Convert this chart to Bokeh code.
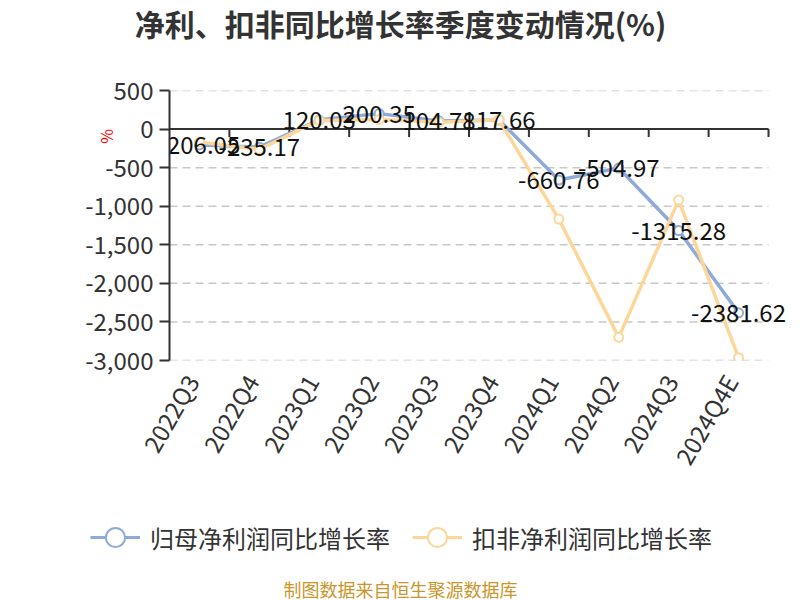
from bokeh.plotting import figure
from bokeh.models import (Legend, LegendItem, FixedTicker, LinearAxis,
                          NumeralTickFormatter, ColumnDataSource, Range1d)
from bokeh.core.properties import value
from bokeh.embed import file_html
from bokeh.resources import INLINE
import math

categories = ["2022Q3", "2022Q4", "2023Q1", "2023Q2", "2023Q3", "2023Q4",
              "2024Q1", "2024Q2", "2024Q3", "2024Q4E"]
net_profit_growth = [-206.05, -235.17, 120.03, 200.35, 104.78, 117.66,
                     -660.76, -504.97, -1315.28, -2381.62]
deducted_growth = [-168, -263, 112, 124, 90, 121, -1167, -2700, -921, -2963]
y_ticks = [500, 0, -500, -1000, -1500, -2000, -2500, -3000]
series_names = ["归母净利润同比增长率", "扣非净利润同比增长率"]
title_text = "净利、扣非同比增长率季度变动情况(%)"
source_text = "制图数据来自恒生聚源数据库"

FONT = "Noto Sans CJK SC"
BLUE = "#8eaadb"
ORANGE = "#fdd79a"
DARK = "#333333"

n = len(categories)
xs = [i + 0.5 for i in range(n)]


def blank_figure(h):
    f = figure(width=800, height=h, x_range=Range1d(0, 800), y_range=Range1d(h, 0),
               output_backend="svg", toolbar_location=None,
               x_axis_location=None, y_axis_location=None,
               min_border_left=0, min_border_right=0, min_border_top=0,
               min_border_bottom=0)
    f.outline_line_color = None
    f.xgrid.grid_line_color = None
    f.ygrid.grid_line_color = None
    return f


# ---- header ----
HEAD_H = 50
h = blank_figure(HEAD_H)
h.text(x=[400], y=[22], text=[title_text], text_align="center", text_baseline="middle",
       text_font=value(FONT), text_font_size="30px", text_font_style="bold",
       text_color=DARK)

# ---- main chart ----
BOTTOM_PANEL = 121
LEFT, RIGHT, TOP = 169, 5, 90 - HEAD_H
FRAME_BOTTOM = 361 - HEAD_H
MAIN_H = FRAME_BOTTOM + BOTTOM_PANEL
frame_w = 800 - LEFT - RIGHT
cat_px = 599 / n
x_end = frame_w / cat_px

p = figure(width=800, height=MAIN_H, x_range=Range1d(0, x_end), y_range=Range1d(-3000, 500),
           output_backend="svg", toolbar_location=None,
           min_border_left=LEFT, min_border_right=RIGHT, min_border_top=TOP,
           min_border_bottom=BOTTOM_PANEL)
p.outline_line_color = None

p.yaxis.ticker = FixedTicker(ticks=y_ticks)
p.yaxis.formatter = NumeralTickFormatter(format="0,0")
p.yaxis.axis_line_color = DARK
p.yaxis.axis_line_width = 2
p.yaxis.major_tick_line_color = DARK
p.yaxis.major_tick_line_width = 2
p.yaxis.major_tick_out = 10
p.yaxis.major_tick_in = 0
p.yaxis.minor_tick_line_color = None
p.yaxis.major_label_text_font = FONT
p.yaxis.major_label_text_font_size = "24px"
p.yaxis.major_label_text_color = DARK
p.yaxis.major_label_standoff = 6

unit_axis = LinearAxis(ticker=FixedTicker(ticks=[0]), major_label_overrides={0: "%"},
                       axis_line_color=None, major_tick_line_color=None,
                       minor_tick_line_color=None, major_tick_out=0,
                       major_label_text_color="red", major_label_text_font=FONT,
                       major_label_text_font_size="16px",
                       major_label_orientation=math.pi / 2, major_label_standoff=-24)
p.add_layout(unit_axis, "left")

label_shift = 8 / cat_px
p.xaxis.ticker = FixedTicker(ticks=[x - label_shift for x in xs])
p.xaxis.major_label_overrides = {x - label_shift: c for x, c in zip(xs, categories)}
p.xaxis.axis_line_color = None
p.xaxis.major_tick_line_color = None
p.xaxis.minor_tick_line_color = None
p.xaxis.major_label_orientation = math.pi / 3
p.xaxis.major_label_text_font = FONT
p.xaxis.major_label_text_font_size = "24px"
p.xaxis.major_label_text_color = DARK
p.xaxis.major_label_standoff = 10

p.xgrid.grid_line_color = None
p.ygrid.grid_line_color = None

p.segment(x0=[0] * len(y_ticks), y0=y_ticks, x1=[n] * len(y_ticks), y1=y_ticks,
          line_color="#c8c8c8", line_width=1.5, line_dash="8 5")

p.segment(x0=[0], y0=[0], x1=[n], y1=[0], line_color=DARK, line_width=2)
bounds = list(range(1, n + 1))
tick_len = 8 * 3500 / 271
p.segment(x0=bounds, y0=[0] * n, x1=bounds, y1=[-tick_len] * n,
          line_color=DARK, line_width=2)

p.line(xs, net_profit_growth, line_color=BLUE, line_width=3.5)
p.scatter(xs, net_profit_growth, size=9, marker="circle", fill_color="white",
          line_color=BLUE, line_width=2)
p.line(xs, deducted_growth, line_color=ORANGE, line_width=3.5)
p.scatter(xs, deducted_growth, size=9, marker="circle", fill_color="white",
          line_color=ORANGE, line_width=2)

src = ColumnDataSource(dict(x=xs, y=net_profit_growth,
                            t=[f"{v:.2f}" for v in net_profit_growth]))
p.text(x="x", y="y", text="t", source=src, text_align="center", text_baseline="middle",
       text_font=value(FONT), text_font_size="24px", text_color="#111111")

# ---- legend + source note ----
LEG_TOP = HEAD_H + MAIN_H
LEG_H = 600 - LEG_TOP
q = blank_figure(LEG_H)
items = []
for name, col, vals in zip(series_names, [BLUE, ORANGE], [net_profit_growth, deducted_growth]):
    lr = q.line(x=xs, y=vals, line_color=col, line_width=3, visible=False)
    sr = q.scatter(x=xs, y=vals, size=19, marker="circle", fill_color="white",
                   line_color=col, line_width=2, visible=False)
    items.append(LegendItem(label=name, renderers=[lr, sr]))

GLYPH_H = 48
leg_center = 537 - LEG_TOP
legend = Legend(items=items, orientation="horizontal",
                location=(90, LEG_H - leg_center - GLYPH_H // 2),
                label_text_font=FONT, label_text_font_size="24px",
                label_text_color=DARK, glyph_width=50, glyph_height=GLYPH_H,
                label_standoff=10, spacing=22, border_line_color=None,
                background_fill_alpha=0, margin=0, padding=0, label_height=24)
q.add_layout(legend, "center")

q.text(x=[400], y=[588 - LEG_TOP], text=[source_text], text_align="center",
       text_baseline="middle", text_font=value(FONT), text_font_size="18px",
       text_color="#c9962b")

open("out.html", "w").write(file_html([h, p, q], INLINE))
